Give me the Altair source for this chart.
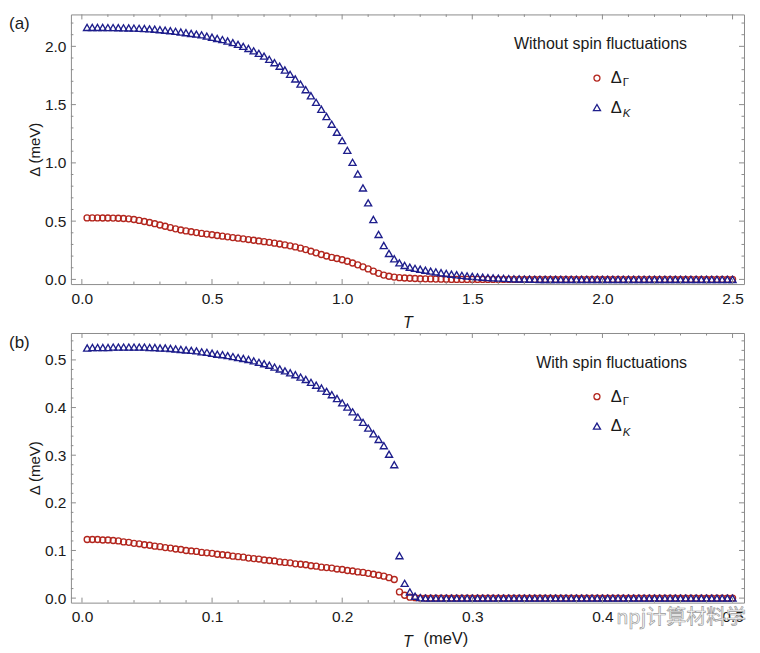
import altair as alt
import pandas as pd

RED = "#b3261e"
BLUE = "#1e1e8c"
FRAME = "#8c8c8c"
INK = "#1a1a1a"
FONT = "Liberation Sans"

SERIES = ["ΔΓ", "ΔK"]

# ---------------- panel (a): without spin fluctuations ----------------
T_TOP = [
    0.02, 0.04, 0.06, 0.08, 0.10, 0.12, 0.14, 0.16, 0.18, 0.20,
    0.22, 0.24, 0.26, 0.28, 0.30, 0.32, 0.34, 0.36, 0.38, 0.40,
    0.42, 0.44, 0.46, 0.48, 0.50, 0.52, 0.54, 0.56, 0.58, 0.60,
    0.62, 0.64, 0.66, 0.68, 0.70, 0.72, 0.74, 0.76, 0.78, 0.80,
    0.82, 0.84, 0.86, 0.88, 0.90, 0.92, 0.94, 0.96, 0.98, 1.00,
    1.02, 1.04, 1.06, 1.08, 1.10, 1.12, 1.14, 1.16, 1.18, 1.20,
    1.22, 1.24, 1.26, 1.28, 1.30, 1.32, 1.34, 1.36, 1.38, 1.40,
    1.42, 1.44, 1.46, 1.48, 1.50, 1.52, 1.54, 1.56, 1.58, 1.60,
    1.62, 1.64, 1.66, 1.68, 1.70, 1.72, 1.74, 1.76, 1.78, 1.80,
    1.82, 1.84, 1.86, 1.88, 1.90, 1.92, 1.94, 1.96, 1.98, 2.00,
    2.02, 2.04, 2.06, 2.08, 2.10, 2.12, 2.14, 2.16, 2.18, 2.20,
    2.22, 2.24, 2.26, 2.28, 2.30, 2.32, 2.34, 2.36, 2.38, 2.40,
    2.42, 2.44, 2.46, 2.48, 2.50,
]
GAMMA_TOP = [
    0.528, 0.528, 0.528, 0.527, 0.527, 0.526, 0.525, 0.523, 0.520, 0.514,
    0.506, 0.497, 0.488, 0.478, 0.467, 0.456, 0.445, 0.434, 0.424, 0.416,
    0.409, 0.402, 0.395, 0.389, 0.383, 0.377, 0.371, 0.365, 0.359, 0.354,
    0.348, 0.342, 0.336, 0.330, 0.324, 0.318, 0.311, 0.304, 0.296, 0.288,
    0.279, 0.268, 0.256, 0.242, 0.228, 0.214, 0.201, 0.189, 0.179, 0.169,
    0.156, 0.141, 0.125, 0.108, 0.090, 0.071, 0.052, 0.037, 0.027, 0.020,
    0.015, 0.012, 0.010, 0.008, 0.006, 0.005, 0.004, 0.003, 0.002, 0.001,
    0.0, 0.0, 0.0, 0.0, 0.0, 0.0, 0.0, 0.0, 0.0, 0.0,
    0.0, 0.0, 0.0, 0.0, 0.0, 0.0, 0.0, 0.0, 0.0, 0.0,
    0.0, 0.0, 0.0, 0.0, 0.0, 0.0, 0.0, 0.0, 0.0, 0.0,
    0.0, 0.0, 0.0, 0.0, 0.0, 0.0, 0.0, 0.0, 0.0, 0.0,
    0.0, 0.0, 0.0, 0.0, 0.0, 0.0, 0.0, 0.0, 0.0, 0.0,
    0.0, 0.0, 0.0, 0.0, 0.0,
]
K_TOP = [
    2.162, 2.162, 2.162, 2.162, 2.161, 2.161, 2.160, 2.159, 2.158, 2.157,
    2.155, 2.153, 2.150, 2.147, 2.143, 2.139, 2.134, 2.129, 2.123, 2.117,
    2.111, 2.105, 2.099, 2.088, 2.078, 2.068, 2.058, 2.046, 2.032, 2.017,
    2.000, 1.982, 1.962, 1.940, 1.916, 1.889, 1.860, 1.830, 1.797, 1.760,
    1.720, 1.676, 1.628, 1.576, 1.520, 1.460, 1.398, 1.332, 1.263, 1.191,
    1.108, 1.005, 0.905, 0.785, 0.657, 0.514, 0.386, 0.291, 0.223, 0.177,
    0.142, 0.120, 0.105, 0.095, 0.087, 0.079, 0.071, 0.064, 0.057, 0.051,
    0.045, 0.040, 0.035, 0.030, 0.026, 0.022, 0.019, 0.016, 0.013, 0.011,
    0.009, 0.007, 0.005, 0.004, 0.003, 0.002, 0.001, 0.0, 0.0, 0.0,
    0.0, 0.0, 0.0, 0.0, 0.0, 0.0, 0.0, 0.0, 0.0, 0.0,
    0.0, 0.0, 0.0, 0.0, 0.0, 0.0, 0.0, 0.0, 0.0, 0.0,
    0.0, 0.0, 0.0, 0.0, 0.0, 0.0, 0.0, 0.0, 0.0, 0.0,
    0.0, 0.0, 0.0, 0.0, 0.0,
]

# ---------------- panel (b): with spin fluctuations ----------------
T_BOT = [
    0.004, 0.008, 0.012, 0.016, 0.020, 0.024, 0.028, 0.032, 0.036, 0.040,
    0.044, 0.048, 0.052, 0.056, 0.060, 0.064, 0.068, 0.072, 0.076, 0.080,
    0.084, 0.088, 0.092, 0.096, 0.100, 0.104, 0.108, 0.112, 0.116, 0.120,
    0.124, 0.128, 0.132, 0.136, 0.140, 0.144, 0.148, 0.152, 0.156, 0.160,
    0.164, 0.168, 0.172, 0.176, 0.180, 0.184, 0.188, 0.192, 0.196, 0.200,
    0.204, 0.208, 0.212, 0.216, 0.220, 0.224, 0.228, 0.232, 0.236, 0.240,
    0.244, 0.248, 0.252, 0.256, 0.260, 0.264, 0.268, 0.272, 0.276, 0.280,
    0.284, 0.288, 0.292, 0.296, 0.300, 0.304, 0.308, 0.312, 0.316, 0.320,
    0.324, 0.328, 0.332, 0.336, 0.340, 0.344, 0.348, 0.352, 0.356, 0.360,
    0.364, 0.368, 0.372, 0.376, 0.380, 0.384, 0.388, 0.392, 0.396, 0.400,
    0.404, 0.408, 0.412, 0.416, 0.420, 0.424, 0.428, 0.432, 0.436, 0.440,
    0.444, 0.448, 0.452, 0.456, 0.460, 0.464, 0.468, 0.472, 0.476, 0.480,
    0.484, 0.488, 0.492, 0.496, 0.500,
]
GAMMA_BOT = [
    0.123, 0.123, 0.123, 0.122, 0.122, 0.121, 0.120, 0.118, 0.117, 0.115,
    0.114, 0.112, 0.111, 0.109, 0.108, 0.106, 0.105, 0.103, 0.102, 0.100,
    0.099, 0.098, 0.096, 0.095, 0.094, 0.092, 0.091, 0.090, 0.088, 0.087,
    0.086, 0.084, 0.083, 0.082, 0.080, 0.079, 0.078, 0.076, 0.075, 0.074,
    0.072, 0.071, 0.070, 0.068, 0.067, 0.065, 0.064, 0.063, 0.061, 0.060,
    0.058, 0.057, 0.055, 0.054, 0.052, 0.050, 0.048, 0.046, 0.043, 0.039,
    0.013, 0.006, 0.002, 0.001, 0.0, 0.0, 0.0, 0.0, 0.0, 0.0,
    0.0, 0.0, 0.0, 0.0, 0.0, 0.0, 0.0, 0.0, 0.0, 0.0,
    0.0, 0.0, 0.0, 0.0, 0.0, 0.0, 0.0, 0.0, 0.0, 0.0,
    0.0, 0.0, 0.0, 0.0, 0.0, 0.0, 0.0, 0.0, 0.0, 0.0,
    0.0, 0.0, 0.0, 0.0, 0.0, 0.0, 0.0, 0.0, 0.0, 0.0,
    0.0, 0.0, 0.0, 0.0, 0.0, 0.0, 0.0, 0.0, 0.0, 0.0,
    0.0, 0.0, 0.0, 0.0, 0.0,
]
K_BOT = [
    0.525, 0.526, 0.526, 0.526, 0.526, 0.527, 0.527, 0.527, 0.527, 0.527,
    0.527, 0.527, 0.526, 0.526, 0.525, 0.525, 0.524, 0.523, 0.522, 0.521,
    0.520, 0.519, 0.517, 0.516, 0.514, 0.512, 0.511, 0.509, 0.507, 0.505,
    0.503, 0.501, 0.498, 0.495, 0.492, 0.489, 0.485, 0.481, 0.477, 0.473,
    0.469, 0.464, 0.459, 0.453, 0.447, 0.441, 0.434, 0.427, 0.419, 0.410,
    0.401, 0.391, 0.380, 0.369, 0.357, 0.345, 0.333, 0.320, 0.302, 0.280,
    0.089, 0.031, 0.013, 0.004, 0.001, 0.0, 0.0, 0.0, 0.0, 0.0,
    0.0, 0.0, 0.0, 0.0, 0.0, 0.0, 0.0, 0.0, 0.0, 0.0,
    0.0, 0.0, 0.0, 0.0, 0.0, 0.0, 0.0, 0.0, 0.0, 0.0,
    0.0, 0.0, 0.0, 0.0, 0.0, 0.0, 0.0, 0.0, 0.0, 0.0,
    0.0, 0.0, 0.0, 0.0, 0.0, 0.0, 0.0, 0.0, 0.0, 0.0,
    0.0, 0.0, 0.0, 0.0, 0.0, 0.0, 0.0, 0.0, 0.0, 0.0,
    0.0, 0.0, 0.0, 0.0, 0.0,
]

# ---------------- ticks ----------------
X_MAJOR_TOP = [0.0, 0.5, 1.0, 1.5, 2.0, 2.5]
X_MINOR_TOP = [0.1, 0.2, 0.3, 0.4, 0.6, 0.7, 0.8, 0.9, 1.1, 1.2, 1.3, 1.4,
               1.6, 1.7, 1.8, 1.9, 2.1, 2.2, 2.3, 2.4]
Y_MAJOR_TOP = [0.0, 0.5, 1.0, 1.5, 2.0]
Y_MINOR_TOP = [0.1, 0.2, 0.3, 0.4, 0.6, 0.7, 0.8, 0.9, 1.1, 1.2, 1.3, 1.4,
               1.6, 1.7, 1.8, 1.9, 2.1, 2.2]
X_MAJOR_BOT = [0.0, 0.1, 0.2, 0.3, 0.4, 0.5]
X_MINOR_BOT = [0.02, 0.04, 0.06, 0.08, 0.12, 0.14, 0.16, 0.18, 0.22, 0.24,
               0.26, 0.28, 0.32, 0.34, 0.36, 0.38, 0.42, 0.44, 0.46, 0.48]
Y_MAJOR_BOT = [0.0, 0.1, 0.2, 0.3, 0.4, 0.5]
Y_MINOR_BOT = [0.02, 0.04, 0.06, 0.08, 0.12, 0.14, 0.16, 0.18, 0.22, 0.24,
               0.26, 0.28, 0.32, 0.34, 0.36, 0.38, 0.42, 0.44, 0.46, 0.48,
               0.52, 0.54]

W, H = 674, 270
MAJ, MIN = 5, 2.5


def tick_layer(values, channel, scale, axis, side, length):
    df = pd.DataFrame({"v": values})
    c = alt.Chart(df).mark_rule(color=FRAME, strokeWidth=1)
    if channel == "x":
        enc = dict(x=alt.X("v:Q", scale=scale, axis=axis))
        if side == "bottom":
            enc.update(y=alt.value(H), y2=alt.value(H - length))
        else:
            enc.update(y=alt.value(0), y2=alt.value(length))
    else:
        enc = dict(y=alt.Y("v:Q", scale=scale, axis=axis))
        if side == "left":
            enc.update(x=alt.value(0), x2=alt.value(length))
        else:
            enc.update(x=alt.value(W), x2=alt.value(W - length))
    return c.encode(**enc)


def text_layer(txt, x, y, size, align="left", italic=False, font=FONT,
               color=INK, stroke=None):
    kw = dict(align=align, baseline="middle", font=font, fontSize=size,
              color=color)
    if italic:
        kw["fontStyle"] = "italic"
    if stroke:
        kw["stroke"] = stroke
        kw["strokeWidth"] = 0.7
    return alt.Chart(pd.DataFrame({"t": [txt]})).mark_text(**kw).encode(
        text="t:N", x=alt.value(x), y=alt.value(y))


def panel(T, gam, kap, xdom, ydom, xmaj, xmin, ymaj, ymin, note, tag, extra):
    xs = alt.Scale(domain=xdom, nice=False, zero=False)
    ys = alt.Scale(domain=ydom, nice=False, zero=False)
    xa = alt.Axis(values=xmaj, format=".1f", title="T",
                  titleFontStyle="italic", labelPadding=7,
                  titlePadding=8, labelFlush=False)
    ya = alt.Axis(values=ymaj, format=".1f", title="Δ (meV)",
                  titleFontSize=15, labelPadding=5,
                  titlePadding=2, labelFlush=False)
    df = pd.DataFrame({
        "T": T + T,
        "D": gam + kap,
        "series": [SERIES[0]] * len(T) + [SERIES[1]] * len(T),
    })
    leg = alt.Legend(orient="none", legendX=518.5, legendY=55.5, title=None,
                     labelExpr="'Δ'", labelFont=FONT, labelFontSize=16.5,
                     labelColor=INK, symbolSize=26, symbolStrokeWidth=1.3,
                     labelOffset=5.5, rowPadding=12.5, padding=0)
    pts = alt.Chart(df).mark_point(filled=False, strokeWidth=1.35, opacity=1).encode(
        x=alt.X("T:Q", scale=xs, axis=xa),
        y=alt.Y("D:Q", scale=ys, axis=ya),
        color=alt.Color("series:N",
                        scale=alt.Scale(domain=SERIES, range=[RED, BLUE]),
                        legend=leg),
        shape=alt.Shape("series:N",
                        scale=alt.Scale(domain=SERIES,
                                        range=["circle", "triangle-up"]),
                        legend=leg),
        size=alt.Size("series:N",
                      scale=alt.Scale(domain=SERIES, range=[36, 50]),
                      legend=None),
    )
    layers = [pts]
    layers += [
        tick_layer(xmaj, "x", xs, xa, "bottom", MAJ),
        tick_layer(xmaj, "x", xs, xa, "top", MAJ),
        tick_layer(xmin, "x", xs, xa, "bottom", MIN),
        tick_layer(xmin, "x", xs, xa, "top", MIN),
        tick_layer(ymaj, "y", ys, ya, "left", MAJ),
        tick_layer(ymaj, "y", ys, ya, "right", MAJ),
        tick_layer(ymin, "y", ys, ya, "left", MIN),
        tick_layer(ymin, "y", ys, ya, "right", MIN),
    ]
    layers += [
        text_layer(note, 617, 30, 16, align="right"),
        text_layer("Γ", 552.5, 69, 11.5),
        text_layer("K", 552.5, 100, 11.5, italic=True),
        text_layer(tag, -62, 10, 17),
    ]
    layers += extra
    return alt.layer(*layers).properties(width=W, height=H)


top = panel(T_TOP, GAMMA_TOP, K_TOP, [-0.042, 2.544], [-0.040, 2.274],
            X_MAJOR_TOP, X_MINOR_TOP, Y_MAJOR_TOP, Y_MINOR_TOP,
            "Without spin fluctuations", "(a)", [])

bot_extra = [
    text_layer("(meV)", 353, 306, 16.5),
    text_layer("npj计算材料学", 546, 285, 20, font="Noto Sans CJK SC",
               color="#ffffff", stroke="#9a9a9a"),
]
bot = panel(T_BOT, GAMMA_BOT, K_BOT, [-0.0085, 0.5088], [-0.0095, 0.5565],
            X_MAJOR_BOT, X_MINOR_BOT, Y_MAJOR_BOT, Y_MINOR_BOT,
            "With spin fluctuations", "(b)", bot_extra)

chart = (
    alt.vconcat(top, bot, spacing=49, bounds="flush")
    .resolve_scale(color="independent", shape="independent", size="independent")
    .properties(padding={"left": 0, "top": 5, "right": 5, "bottom": 5})
    .configure_view(stroke=FRAME, strokeWidth=1)
    .configure_axis(labelFont=FONT, labelFontSize=15.5, labelColor=INK,
                    titleFont=FONT, titleFontSize=16, titleFontWeight="normal",
                    titleColor=INK, ticks=False, domain=False, grid=False)
)

chart.save("out.html", embed_options={"renderer": "svg", "actions": False})
